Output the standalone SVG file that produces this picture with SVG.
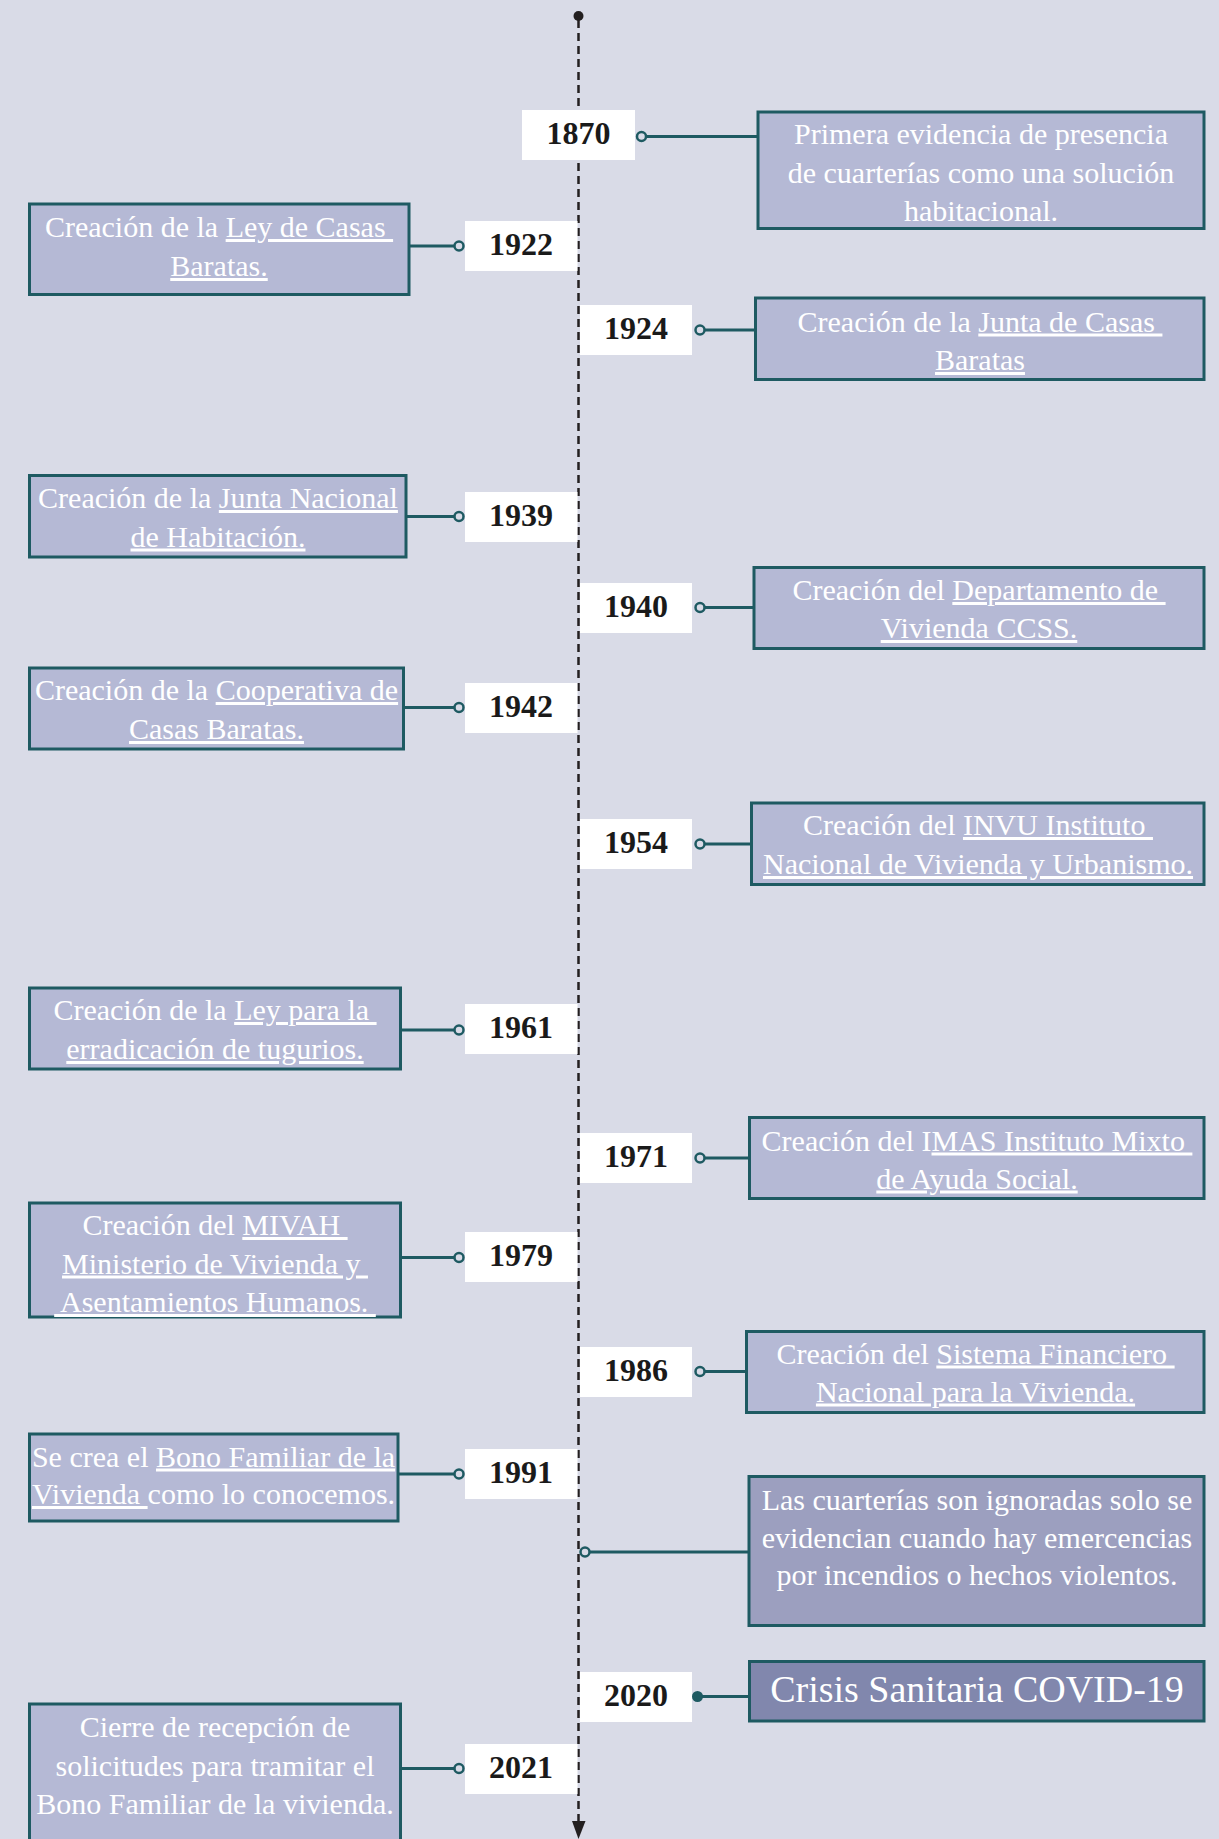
<svg xmlns="http://www.w3.org/2000/svg" width="1219" height="1839" viewBox="0 0 1219 1839">
<style>
.bg{fill:#d9dbe7}
.box{fill:#b5b9d5;stroke:#1e5a62;stroke-width:3}
.box2{fill:#9c9fbf;stroke:#1e5a62;stroke-width:3}
.box3{fill:#8187ad;stroke:#1e5a62;stroke-width:3}
.yr{fill:#ffffff}
.yt{font-family:"Liberation Serif",serif;font-weight:bold;font-size:32px;fill:#1a1a1a;text-anchor:middle}
.t{font-family:"Liberation Serif",serif;font-size:30px;fill:#ffffff;text-anchor:middle}
.big{font-family:"Liberation Serif",serif;font-size:38px;fill:#ffffff;text-anchor:middle}
.u{text-decoration:underline}
.cl{stroke:#1e5a62;stroke-width:3;fill:none}
.dot{fill:#d9dbe7;stroke:#1e5a62;stroke-width:2.5}
.axis{stroke:#231f20;stroke-width:2.5;stroke-dasharray:8 5;fill:none}
</style>
<rect class="bg" x="0" y="0" width="1219" height="1839"/>

<g id="axis">
<line class="axis" x1="578.5" y1="20" x2="578.5" y2="1823"/>
<circle cx="578.5" cy="16" r="5" fill="#231f20"/>
<polygon points="572,1821 585.5,1821 578.5,1839" fill="#231f20"/>
</g>

<g id="connectors">
<line class="cl" x1="646" y1="136.5" x2="757" y2="136.5"/><circle class="dot" cx="641.5" cy="136.5" r="4.5"/>
<line class="cl" x1="410" y1="246" x2="455" y2="246"/><circle class="dot" cx="459" cy="246" r="4.5"/>
<line class="cl" x1="704" y1="330" x2="755" y2="330"/><circle class="dot" cx="700" cy="330" r="4.5"/>
<line class="cl" x1="407" y1="516.5" x2="455" y2="516.5"/><circle class="dot" cx="459" cy="516.5" r="4.5"/>
<line class="cl" x1="704" y1="607.5" x2="753" y2="607.5"/><circle class="dot" cx="700" cy="607.5" r="4.5"/>
<line class="cl" x1="405" y1="707.5" x2="455" y2="707.5"/><circle class="dot" cx="459" cy="707.5" r="4.5"/>
<line class="cl" x1="704" y1="844" x2="751" y2="844"/><circle class="dot" cx="700" cy="844" r="4.5"/>
<line class="cl" x1="402" y1="1030" x2="455" y2="1030"/><circle class="dot" cx="459" cy="1030" r="4.5"/>
<line class="cl" x1="704" y1="1158" x2="749" y2="1158"/><circle class="dot" cx="700" cy="1158" r="4.5"/>
<line class="cl" x1="402" y1="1257.5" x2="455" y2="1257.5"/><circle class="dot" cx="459" cy="1257.5" r="4.5"/>
<line class="cl" x1="704" y1="1371.5" x2="746" y2="1371.5"/><circle class="dot" cx="700" cy="1371.5" r="4.5"/>
<line class="cl" x1="399" y1="1474" x2="455" y2="1474"/><circle class="dot" cx="459" cy="1474" r="4.5"/>
<line class="cl" x1="589" y1="1552" x2="748" y2="1552"/><circle class="dot" cx="585" cy="1552" r="4.5"/>
<line class="cl" x1="697" y1="1696.5" x2="749" y2="1696.5"/><circle cx="697.5" cy="1696.5" r="5.5" fill="#1e5a62"/>
<line class="cl" x1="402" y1="1768.5" x2="455" y2="1768.5"/><circle class="dot" cx="459" cy="1768.5" r="4.5"/>
</g>

<g id="n1870">
<rect class="box" x="758" y="112" width="446" height="116.5"/>
<text class="t" x="981" y="144">Primera evidencia de presencia</text>
<text class="t" x="981" y="182.5">de cuarterías como una solución</text>
<text class="t" x="981" y="220.5">habitacional.</text>
</g>
<g id="y1870"><rect class="yr" x="522" y="110" width="113" height="50"/><text class="yt" x="578.5" y="144">1870</text></g>

<g id="n1922">
<rect class="box" x="29.5" y="204" width="379.5" height="90.5"/>
<text class="t" x="219" y="237" xml:space="preserve">Creación de la <tspan class="u">Ley de Casas </tspan></text>
<text class="t" x="219" y="276"><tspan class="u">Baratas.</tspan></text>
</g>
<g id="y1922"><rect class="yr" x="465" y="221" width="112.5" height="50"/><text class="yt" x="521" y="255">1922</text></g>

<g id="n1924">
<rect class="box" x="755.5" y="298" width="448.5" height="81.5"/>
<text class="t" x="980" y="331.5" xml:space="preserve">Creación de la <tspan class="u">Junta de Casas </tspan></text>
<text class="t" x="980" y="370"><tspan class="u">Baratas</tspan></text>
</g>
<g id="y1924"><rect class="yr" x="580" y="305" width="112" height="50"/><text class="yt" x="636" y="339">1924</text></g>

<g id="n1939">
<rect class="box" x="29.5" y="475.5" width="376.5" height="81.5"/>
<text class="t" x="218" y="508" xml:space="preserve">Creación de la <tspan class="u">Junta Nacional</tspan></text>
<text class="t" x="218" y="546.5"><tspan class="u">de Habitación.</tspan></text>
</g>
<g id="y1939"><rect class="yr" x="465" y="492" width="112.5" height="50"/><text class="yt" x="521" y="526">1939</text></g>

<g id="n1940">
<rect class="box" x="754" y="567.5" width="450" height="81"/>
<text class="t" x="979" y="600" xml:space="preserve">Creación del <tspan class="u">Departamento de </tspan></text>
<text class="t" x="979" y="638"><tspan class="u">Vivienda CCSS.</tspan></text>
</g>
<g id="y1940"><rect class="yr" x="580" y="583" width="112" height="50"/><text class="yt" x="636" y="617">1940</text></g>

<g id="n1942">
<rect class="box" x="29.5" y="668" width="374" height="81"/>
<text class="t" x="216.5" y="700" xml:space="preserve">Creación de la <tspan class="u">Cooperativa de</tspan></text>
<text class="t" x="216.5" y="739"><tspan class="u">Casas Baratas.</tspan></text>
</g>
<g id="y1942"><rect class="yr" x="465" y="683" width="112.5" height="50"/><text class="yt" x="521" y="717">1942</text></g>

<g id="n1954">
<rect class="box" x="751.5" y="803" width="452.5" height="81.5"/>
<text class="t" x="978" y="835" xml:space="preserve">Creación del <tspan class="u">INVU Instituto </tspan></text>
<text class="t" x="978" y="874"><tspan class="u">Nacional de Vivienda y Urbanismo.</tspan></text>
</g>
<g id="y1954"><rect class="yr" x="580" y="819" width="112" height="50"/><text class="yt" x="636" y="853">1954</text></g>

<g id="n1961">
<rect class="box" x="29.5" y="988" width="371" height="81"/>
<text class="t" x="215" y="1020" xml:space="preserve">Creación de la <tspan class="u">Ley para la </tspan></text>
<text class="t" x="215" y="1059"><tspan class="u">erradicación de tugurios.</tspan></text>
</g>
<g id="y1961"><rect class="yr" x="465" y="1004" width="112.5" height="50"/><text class="yt" x="521" y="1038">1961</text></g>

<g id="n1971">
<rect class="box" x="749.5" y="1117.5" width="454.5" height="81"/>
<text class="t" x="977" y="1150.5" xml:space="preserve">Creación del I<tspan class="u">MAS Instituto Mixto </tspan></text>
<text class="t" x="977" y="1188.5"><tspan class="u">de Ayuda Social.</tspan></text>
</g>
<g id="y1971"><rect class="yr" x="580" y="1133" width="112" height="50"/><text class="yt" x="636" y="1167">1971</text></g>

<g id="n1979">
<rect class="box" x="29.5" y="1203" width="371" height="114"/>
<text class="t" x="215" y="1235" xml:space="preserve">Creación del <tspan class="u">MIVAH </tspan></text>
<text class="t" x="215" y="1273.5" xml:space="preserve"><tspan class="u">Ministerio de Vivienda y </tspan></text>
<text class="t" x="215" y="1312" xml:space="preserve"><tspan class="u"> Asentamientos Humanos. </tspan></text>
</g>
<g id="y1979"><rect class="yr" x="465" y="1232" width="112.5" height="50"/><text class="yt" x="521" y="1266">1979</text></g>

<g id="n1986">
<rect class="box" x="746.5" y="1331.5" width="457.5" height="81"/>
<text class="t" x="975.5" y="1363.5" xml:space="preserve">Creación del <tspan class="u">Sistema Financiero </tspan></text>
<text class="t" x="975.5" y="1401.5"><tspan class="u">Nacional para la Vivienda.</tspan></text>
</g>
<g id="y1986"><rect class="yr" x="580" y="1347" width="112" height="50"/><text class="yt" x="636" y="1381">1986</text></g>

<g id="n1991">
<rect class="box" x="29.5" y="1434" width="368.5" height="87"/>
<text class="t" x="213.5" y="1466.5" xml:space="preserve">Se crea el <tspan class="u">Bono Familiar de la</tspan></text>
<text class="t" x="213.5" y="1504" xml:space="preserve"><tspan class="u">Vivienda </tspan>como lo conocemos.</text>
</g>
<g id="y1991"><rect class="yr" x="465" y="1449" width="112.5" height="50"/><text class="yt" x="521" y="1483">1991</text></g>

<g id="ncuarterias">
<rect class="box2" x="749" y="1476.5" width="455" height="149"/>
<text class="t" x="977" y="1510">Las cuarterías son ignoradas solo se</text>
<text class="t" x="977" y="1548">evidencian cuando hay emercencias</text>
<text class="t" x="977" y="1585">por incendios o hechos violentos.</text>
</g>

<g id="n2020">
<rect class="box3" x="749.5" y="1661.5" width="454.5" height="59.5"/>
<text class="big" x="977" y="1702">Crisis Sanitaria COVID-19</text>
</g>
<g id="y2020"><rect class="yr" x="580" y="1672" width="112" height="50"/><text class="yt" x="636" y="1706">2020</text></g>

<g id="n2021">
<rect class="box" x="29.5" y="1704" width="371" height="150"/>
<text class="t" x="215" y="1736.5">Cierre de recepción de</text>
<text class="t" x="215" y="1776">solicitudes para tramitar el</text>
<text class="t" x="215" y="1813.5">Bono Familiar de la vivienda.</text>
</g>
<g id="y2021"><rect class="yr" x="465" y="1744" width="112.5" height="50"/><text class="yt" x="521" y="1778">2021</text></g>
</svg>
